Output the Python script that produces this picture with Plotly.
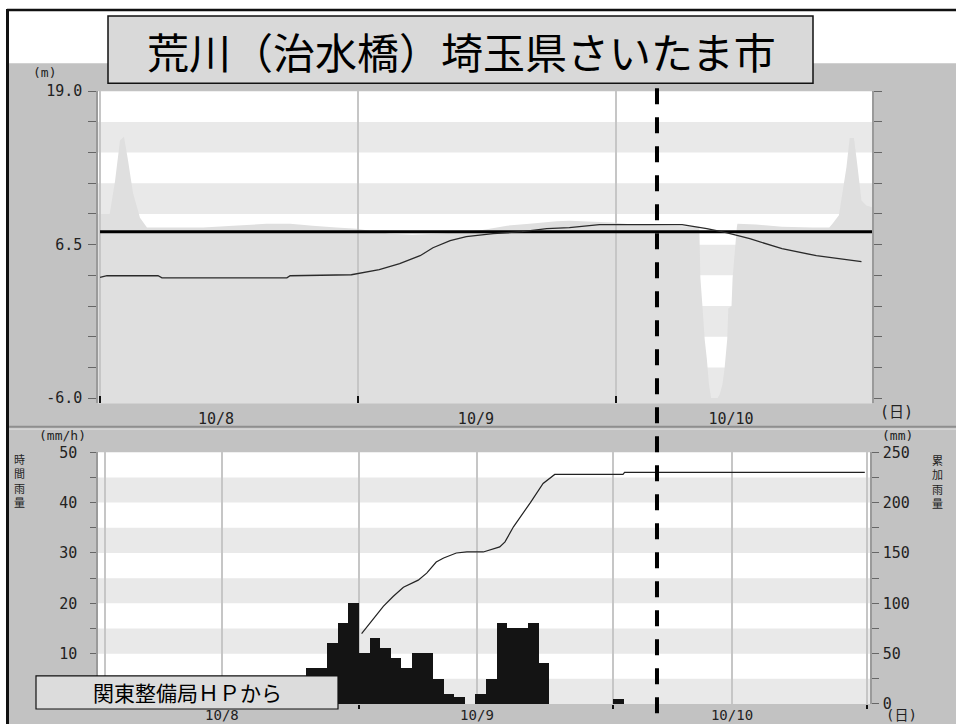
import plotly.graph_objects as go

# ---------------- data ----------------
TITLE = "荒川（治水橋）埼玉県さいたま市"
SOURCE = "関東整備局ＨＰから"
DATE_LABELS = ["10/8", "10/9", "10/10"]

# upper chart: water level (hours from 10/8 00:00, metres)
LEVEL_HOURS = [0.0, 0.65, 5.4, 5.77, 17.4, 17.7, 23.4, 26.0, 27.9, 29.8, 31.0, 32.6,
               34.1, 36.6, 39.3, 41.6, 43.7, 46.5, 54.2, 56.5, 58.3, 60.5, 63.5, 66.7, 70.9]
LEVEL_M = [3.83, 3.97, 3.97, 3.80, 3.80, 3.97, 4.05, 4.46, 4.95, 5.60, 6.25, 6.83,
           7.15, 7.40, 7.56, 7.81, 7.89, 8.13, 8.13, 7.81, 7.48, 6.99, 6.17, 5.60, 5.11]
WARN_LEVEL = 7.56
WARN_SPAN_H = [0.0, 72.0]

# grey cross-section silhouette behind the water level
SECTION_H = [-0.2, 0.9, 1.4, 1.86, 2.23, 2.6, 3.07, 3.72, 4.37, 9.6, 12.4, 15.5, 17.7, 19.8,
             22.0, 23.9, 27.0, 29.1, 31.4, 33.2, 35.6, 37.9, 40.0, 42.5, 43.7, 47.7, 49.6,
             54.2, 55.8, 55.9, 56.1, 56.3, 56.5, 56.7, 56.9, 57.5, 57.7, 57.95, 58.15, 58.4,
             58.5, 58.8, 58.9, 59.3, 59.35, 61.1, 63.5, 66.3, 67.9, 68.2, 68.8, 69.5, 69.8,
             70.2, 70.5, 70.9, 71.35, 72.1]
SECTION_M = [9.0, 9.0, 11.7, 15.0, 15.3, 13.4, 10.7, 8.7, 7.9, 7.9, 8.05, 8.2, 8.2, 8.05,
             7.9, 7.8, 7.4, 7.3, 7.4, 7.5, 7.7, 8.05, 8.2, 8.4, 8.45, 8.3, 8.15,
             8.0, 7.95, 3.8, 1.4, -1.2, -2.8, -4.9, -6.0, -6.0, -5.7, -4.9, -3.6, -1.2,
             1.3, 1.5, 3.8, 7.97, 8.2, 8.15, 7.95, 7.9, 7.9, 8.2, 8.9, 12.8, 15.2,
             15.2, 13.1, 10.1, 9.7, 9.5]

# lower chart: hourly rainfall (hour start) and cumulative rainfall
RAIN_HOUR = [19, 20, 21, 22, 23, 24, 25, 26, 27, 28, 29, 30, 31, 32, 33, 34, 35, 36, 37, 38,
             39, 40, 41, 48]
RAIN_MM_H = [7, 7, 12, 16, 20, 10, 13, 11, 9, 7, 10, 10, 5, 2, 1.3, 0, 2, 5, 16, 15,
             15, 16, 8, 1]
CUM_HOUR = [24.25, 26.3, 27.25, 28.2, 29.6, 30.4, 31.3, 32.0, 33.2, 34.2, 35.75, 37.3, 37.8,
            38.6, 40.2, 41.4, 42.5, 48.95, 49.1, 71.8]
CUM_MM = [70, 97, 107, 116, 123, 130, 141, 145, 150, 151, 151, 156, 161,
          176, 200, 219, 228, 228, 230, 230]

CURRENT_H = 51.86

UP_TICKS = [19.0, 16.5, 14.0, 11.5, 9.0, 6.5, 4.0, 1.5, -1.0, -3.5, -6.0]
UP_TICKTEXT = ["19.0", "", "", "", "", "6.5", "", "", "", "", "-6.0"]
RAIN_TICKS = [0, 5, 10, 15, 20, 25, 30, 35, 40, 45, 50]
RAIN_TICKTEXT = ["0", "", "10", "", "20", "", "30", "", "40", "", "50"]
CUM_TICKS = [0, 25, 50, 75, 100, 125, 150, 175, 200, 225, 250]
CUM_TICKTEXT = ["0", "", "50", "", "100", "", "150", "", "200", "", "250"]

# ---------------- layout geometry ----------------
W = 956                  # reference width (px)
FIG_H = 744              # figure height in css px
Y_SCALE, Y_OFFSET = 0.973, 9.0   # measured vertical mapping of the capture
UP_RANGE_X = [-0.19, 71.88]
UP_RANGE_Y = [-6.41, 19.0]
LO_RANGE_X = [-0.66, 72.29]
UP_LABEL_POS = [10.8, 35.0, 58.75]
LO_LABEL_POS = [11.05, 35.15, 59.25]

MONO = "DejaVu Sans Mono"
CJK = "Noto Sans CJK JP"
OUTER = "#c2c2c2"
BAND = "#e9e9e9"
SECTION_FILL = "#dfdfdf"
GRID = "#c6c6c6"


def fx(px):
    return px / W


def fy(py):
    return 1 - ((py - Y_OFFSET) / Y_SCALE) / FIG_H


fig = go.Figure()

fig.add_trace(go.Scatter(x=WARN_SPAN_H, y=[WARN_LEVEL, WARN_LEVEL], mode="lines",
                         line=dict(color="black", width=3), xaxis="x", yaxis="y",
                         hoverinfo="skip", showlegend=False))
fig.add_trace(go.Scatter(x=LEVEL_HOURS, y=LEVEL_M, mode="lines",
                         line=dict(color="#2a2a2a", width=1.3), xaxis="x", yaxis="y",
                         showlegend=False))
fig.add_trace(go.Bar(x=RAIN_HOUR, y=RAIN_MM_H, width=1, offset=0,
                     marker=dict(color="#141414", line=dict(width=0)),
                     xaxis="x2", yaxis="y2", showlegend=False))
fig.add_trace(go.Scatter(x=CUM_HOUR, y=CUM_MM, mode="lines",
                         line=dict(color="#222222", width=1.2), xaxis="x2", yaxis="y3",
                         showlegend=False))

shapes = []
# outer grey panel, white plot areas and frame
shapes.append(dict(type="rect", xref="paper", yref="paper", x0=fx(9), x1=1, y0=0, y1=fy(63),
                   fillcolor=OUTER, line=dict(width=0), layer="below"))
shapes.append(dict(type="rect", xref="paper", yref="paper", x0=fx(98), x1=fx(872), y0=fy(402), y1=fy(91),
                   fillcolor="white", line=dict(width=0), layer="below"))
shapes.append(dict(type="rect", xref="paper", yref="paper", x0=fx(98), x1=fx(870), y0=fy(702), y1=fy(451),
                   fillcolor="white", line=dict(width=0), layer="below"))
shapes.append(dict(type="line", xref="paper", yref="paper", x0=fx(7), x1=1, y0=fy(10), y1=fy(10),
                   line=dict(color="#111", width=2.5), layer="below"))
shapes.append(dict(type="line", xref="paper", yref="paper", x0=fx(7.5), x1=fx(7.5), y0=fy(9), y1=0,
                   line=dict(color="#111", width=3), layer="below"))
shapes.append(dict(type="line", xref="paper", yref="paper", x0=fx(9), x1=1, y0=fy(425.5), y1=fy(425.5),
                   line=dict(color="#8e8e8e", width=2), layer="below"))
shapes.append(dict(type="line", xref="paper", yref="paper", x0=fx(9), x1=1, y0=fy(428), y1=fy(428),
                   line=dict(color="#dadada", width=1.2), layer="below"))
# background bands
for top in [16.5, 11.5, 6.5, 1.5, -3.5]:
    shapes.append(dict(type="rect", xref="x domain", yref="y", x0=0, x1=1, y0=top - 2.5, y1=top,
                       fillcolor=BAND, line=dict(width=0), layer="below"))
for top in [45, 35, 25, 15, 5]:
    shapes.append(dict(type="rect", xref="x2 domain", yref="y2", x0=0, x1=1, y0=top - 5, y1=top,
                       fillcolor=BAND, line=dict(width=0), layer="below"))
# cross-section silhouette
path = f"M {SECTION_H[0]},{UP_RANGE_Y[0]} " + " ".join(
    f"L {h},{m}" for h, m in zip(SECTION_H, SECTION_M)) + f" L {SECTION_H[-1]},{UP_RANGE_Y[0]} Z"
shapes.append(dict(type="path", xref="x", yref="y", path=path, fillcolor=SECTION_FILL,
                   line=dict(width=0), layer="below"))
# current time dashed marker
shapes.append(dict(type="line", xref="x", yref="paper", x0=CURRENT_H, x1=CURRENT_H,
                   y0=fy(88), y1=0, line=dict(color="black", width=4, dash="16px,13px"),
                   layer="above"))
# title box & source box
shapes.append(dict(type="rect", xref="paper", yref="paper", x0=fx(108), x1=fx(813), y0=fy(83), y1=fy(16),
                   fillcolor="#d9d9d9", line=dict(color="#111", width=1.5), layer="above"))
shapes.append(dict(type="rect", xref="paper", yref="paper", x0=fx(36), x1=fx(338), y0=fy(707), y1=fy(674),
                   fillcolor="#dcdcdc", line=dict(color="#111", width=1.2), layer="above"))

ann = []


def text(px, py, s, size, family=MONO, color="#222"):
    ann.append(dict(xref="paper", yref="paper", x=fx(px), y=fy(py), text=s, showarrow=False,
                    xanchor="center", yanchor="middle",
                    font=dict(family=family, size=size, color=color)))


text(461, 50, TITLE, 42, CJK, "#000")
text(187, 690.5, SOURCE, 21, CJK, "#000")
text(44, 72, "(m)", 13)
text(62, 434, "(mm/h)", 13)
text(897, 434, "(mm)", 13)
text(19, 479, "時<br>間<br>雨<br>量", 11, CJK)
text(937, 480, "累<br>加<br>雨<br>量", 11, CJK)
text(896, 411, "(日)", 15, MONO + ", " + CJK)
text(901, 713, "(日)", 14, MONO + ", " + CJK)

tickfont = dict(family=MONO, size=15, color="#222")

fig.update_layout(
    width=W, height=FIG_H, margin=dict(l=0, r=0, t=0, b=0), autosize=False,
    paper_bgcolor="white", plot_bgcolor="white", showlegend=False, bargap=0,
    shapes=shapes, annotations=ann,
    xaxis=dict(domain=[fx(98), fx(872)], anchor="y", range=UP_RANGE_X, showgrid=False,
               zeroline=False, showline=False, tickmode="array", tickvals=UP_LABEL_POS,
               ticktext=DATE_LABELS, ticks="", tickfont=tickfont, ticklabelstandoff=5,
               minor=dict(tick0=0, dtick=24, showgrid=True, gridcolor=GRID, gridwidth=1.5,
                          ticks="inside", ticklen=7, tickcolor="#111", tickwidth=2)),
    yaxis=dict(domain=[fy(402), fy(91)], anchor="x", range=UP_RANGE_Y, showgrid=False,
               zeroline=False, tickmode="array", tickvals=UP_TICKS, ticktext=UP_TICKTEXT,
               ticks="outside", ticklen=8, tickcolor="#666", tickwidth=1.2,
               showline=True, linecolor="#9a9a9a", linewidth=1.5, mirror="ticks",
               tickfont=tickfont, ticklabelstandoff=3),
    xaxis2=dict(domain=[fx(98), fx(870)], anchor="y2", range=LO_RANGE_X, showgrid=True,
                gridcolor=GRID, gridwidth=1.5, zeroline=False, showline=False,
                tickmode="array", tickvals=LO_LABEL_POS, ticktext=DATE_LABELS, ticks="",
                tickfont=dict(family=MONO, size=14, color="#222"), ticklabelstandoff=1,
                minor=dict(tick0=0, dtick=24, showgrid=True, gridcolor=GRID, gridwidth=1.5,
                           ticks="outside", ticklen=4, tickcolor="#111", tickwidth=2)),
    yaxis2=dict(domain=[fy(702), fy(451)], anchor="x2", range=[0, 50], showgrid=False,
                zeroline=False, tickmode="array", tickvals=RAIN_TICKS, ticktext=RAIN_TICKTEXT,
                ticks="outside", ticklen=6, tickcolor="#666", tickwidth=1.2,
                showline=True, linecolor="#9a9a9a", linewidth=1.5,
                tickfont=tickfont, ticklabelstandoff=10),
    yaxis3=dict(overlaying="y2", side="right", anchor="x2", range=[0, 250], showgrid=False,
                zeroline=False, tickmode="array", tickvals=CUM_TICKS, ticktext=CUM_TICKTEXT,
                ticks="outside", ticklen=7, tickcolor="#666", tickwidth=1.2,
                showline=True, linecolor="#9a9a9a", linewidth=1.5,
                tickfont=tickfont, ticklabelstandoff=1),
)

fig.write_html(
    "out.html",
    config={"responsive": False, "displayModeBar": False},
    post_script=("document.body.style.margin='0';document.body.style.overflow='hidden';"
                 "var d=document.getElementById('{plot_id}');d.style.position='absolute';"
                 "d.style.left='0px';d.style.top='0px';"),
)
